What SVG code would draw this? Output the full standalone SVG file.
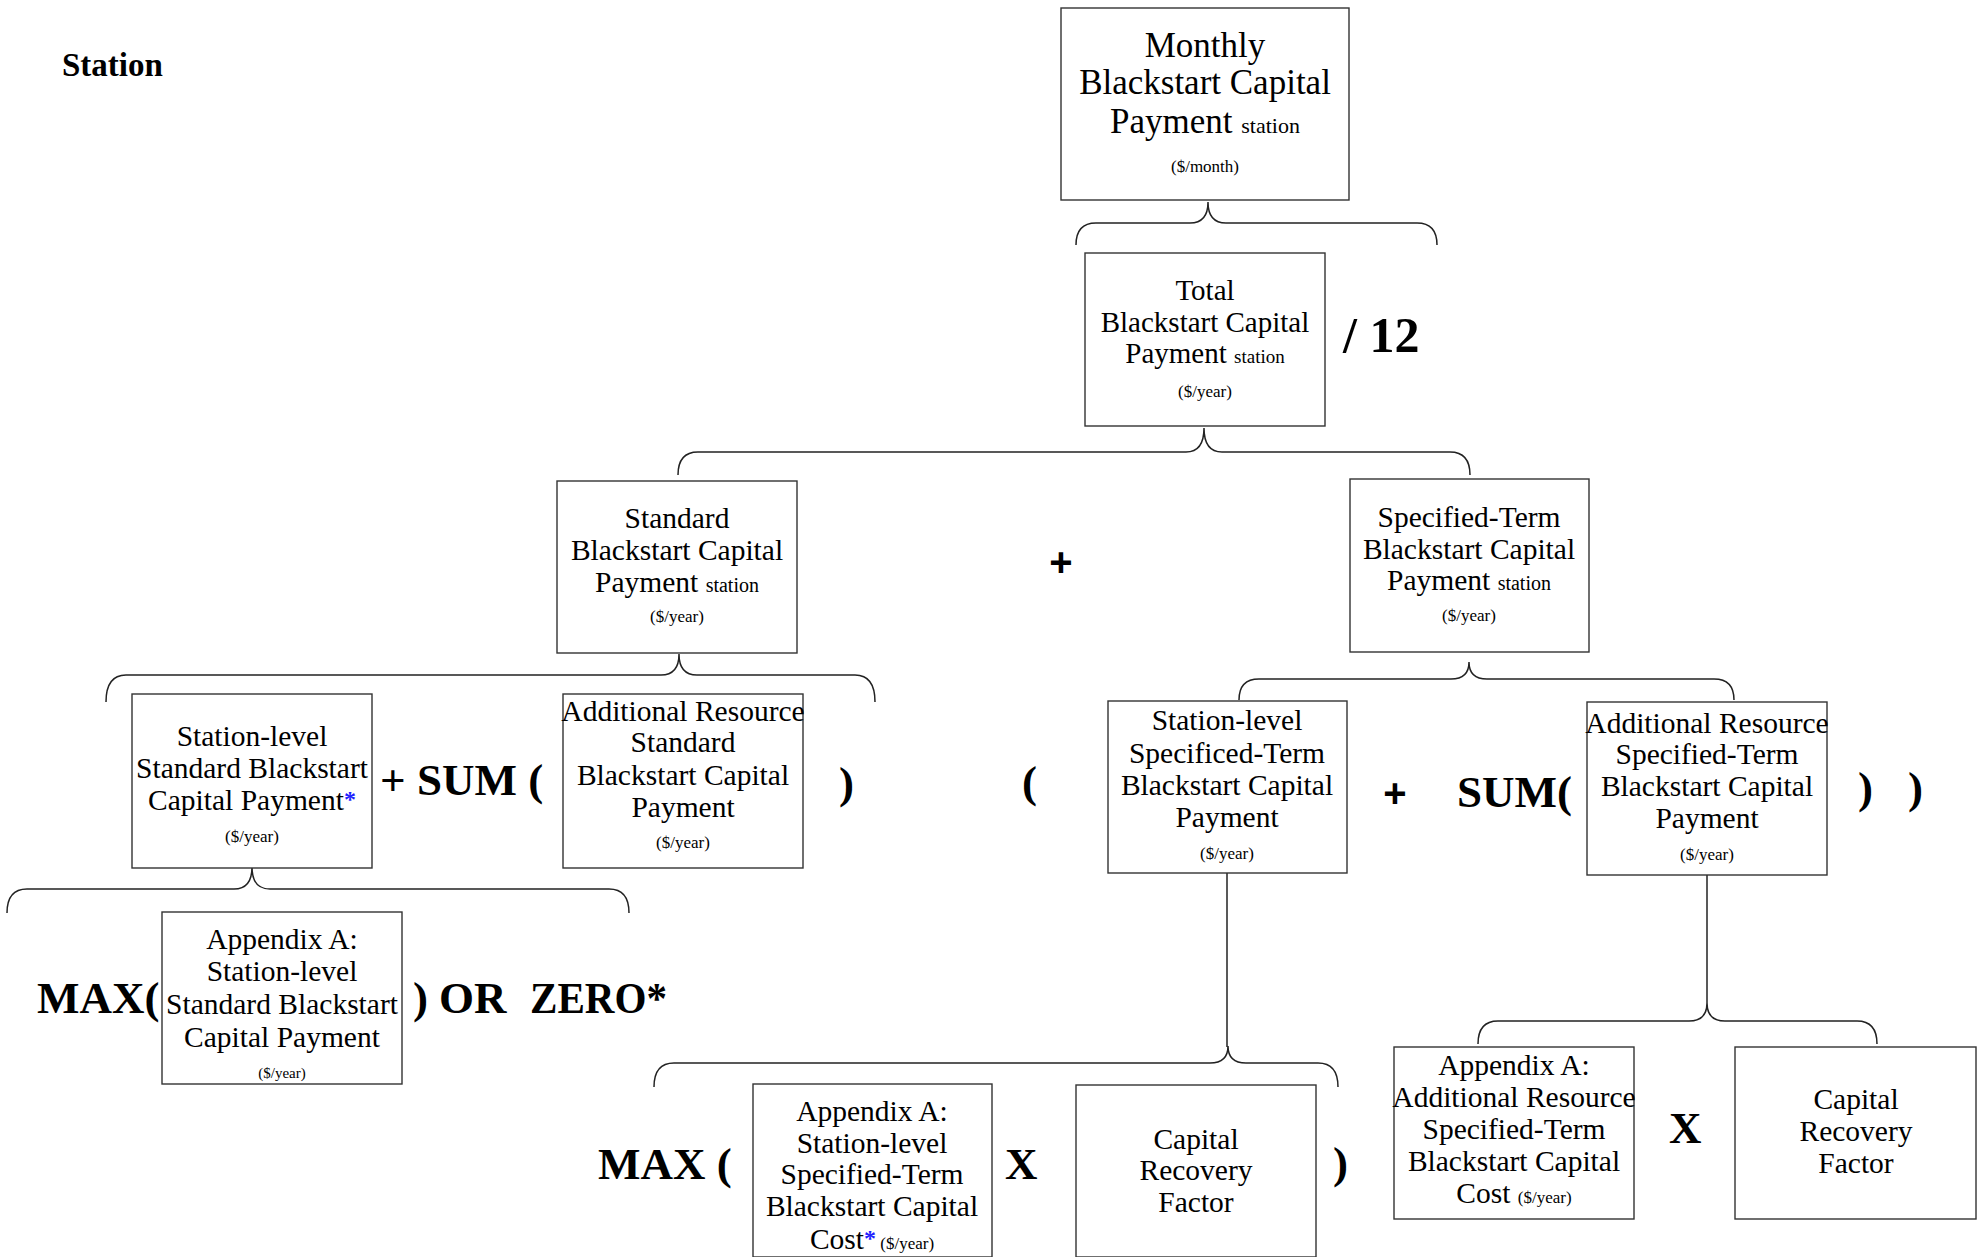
<svg xmlns="http://www.w3.org/2000/svg" width="1983" height="1257" viewBox="0 0 1983 1257">
<style>
.box{fill:#fff;stroke:#333;stroke-width:1.4}
.t{font-family:"Liberation Serif",serif;font-size:29.5px;text-anchor:middle;fill:#000}
.sub{font-size:20px}
.u{font-size:17px}
.ast{fill:#1f1fff;font-weight:bold;font-size:24px}
.op{font-family:"Liberation Serif",serif;font-weight:bold;font-size:45px;fill:#000}
.plus{font-family:"Liberation Sans",sans-serif;font-weight:bold;font-size:40px;fill:#000;text-anchor:middle}
.br{fill:none;stroke:#222;stroke-width:1.5}
</style>
<rect width="1983" height="1257" fill="#fff"/>
<text x="62" y="76" class="op" style="font-size:33px">Station</text>

<g id="connectors">
<path class="br" d="M1076,245 Q1076,223 1096,223 L1190,223 Q1208,223 1208,202 Q1208,223 1226,223 L1417,223 Q1437,223 1437,245"/>
<path class="br" d="M678,475 Q678,452 698,452 L1186,452 Q1204,452 1204,428 Q1204,452 1222,452 L1450,452 Q1470,452 1470,475"/>
<path class="br" d="M106,702 Q106,675 126,675 L661,675 Q679,675 679,654 Q679,675 697,675 L855,675 Q875,675 875,702"/>
<path class="br" d="M1239,700 Q1239,679 1259,679 L1451,679 Q1469,679 1469,662 Q1469,679 1487,679 L1714,679 Q1734,679 1734,700"/>
<path class="br" d="M7,913 Q7,889 27,889 L234,889 Q252,889 252,867 Q252,889 270,889 L609,889 Q629,889 629,913"/>
<path class="br" d="M1227,873 L1227,1047"/>
<path class="br" d="M654,1087 Q654,1063 674,1063 L1210,1063 Q1228,1063 1228,1046 Q1228,1063 1246,1063 L1318,1063 Q1338,1063 1338,1087"/>
<path class="br" d="M1707,875 L1707,1003"/>
<path class="br" d="M1478,1044 Q1478,1021 1498,1021 L1689,1021 Q1707,1021 1707,1003 Q1707,1021 1725,1021 L1857,1021 Q1877,1021 1877,1044"/>
</g>

<g id="monthly">
<rect class="box" x="1061" y="8" width="288" height="192"/>
<text class="t" x="1205" y="57" style="font-size:35px">Monthly</text>
<text class="t" x="1205" y="94" style="font-size:35px">Blackstart Capital</text>
<text class="t" x="1205" y="133" style="font-size:35px">Payment <tspan style="font-size:22px">station</tspan></text>
<text class="t u" x="1205" y="172">($/month)</text>
</g>

<g id="total">
<rect class="box" x="1085" y="253" width="240" height="173"/>
<text class="t" x="1205" y="300" style="font-size:29px">Total</text>
<text class="t" x="1205" y="332" style="font-size:29px">Blackstart Capital</text>
<text class="t" x="1205" y="363" style="font-size:29px">Payment <tspan style="font-size:19px">station</tspan></text>
<text class="t u" x="1205" y="397">($/year)</text>
</g>
<text id="div12" class="op" x="1343" y="352" style="font-size:50px">/ 12</text>

<g id="standard">
<rect class="box" x="557" y="481" width="240" height="172"/>
<text class="t" x="677" y="528">Standard</text>
<text class="t" x="677" y="560">Blackstart Capital</text>
<text class="t" x="677" y="592">Payment <tspan class="sub">station</tspan></text>
<text class="t u" x="677" y="622">($/year)</text>
</g>
<text class="plus" x="1061" y="576">+</text>

<g id="specified">
<rect class="box" x="1350" y="479" width="239" height="173"/>
<text class="t" x="1469" y="527">Specified-Term</text>
<text class="t" x="1469" y="559">Blackstart Capital</text>
<text class="t" x="1469" y="590">Payment <tspan class="sub">station</tspan></text>
<text class="t u" x="1469" y="621">($/year)</text>
</g>

<g id="station-standard">
<rect class="box" x="132" y="694" width="240" height="174"/>
<text class="t" x="252" y="746">Station-level</text>
<text class="t" x="252" y="778">Standard Blackstart</text>
<text class="t" x="252" y="810">Capital Payment<tspan class="ast" dy="-3">*</tspan></text>
<text class="t u" x="252" y="842">($/year)</text>
</g>
<text class="op" x="380" y="795">+ SUM (</text>

<g id="addl-standard">
<rect class="box" x="563" y="694" width="240" height="174"/>
<text class="t" x="683" y="721">Additional Resource</text>
<text class="t" x="683" y="752">Standard</text>
<text class="t" x="683" y="785">Blackstart Capital</text>
<text class="t" x="683" y="817">Payment</text>
<text class="t u" x="683" y="848">($/year)</text>
</g>
<text class="op" x="839" y="798">)</text>

<text class="op" x="37" y="1013">MAX(</text>
<g id="appx-standard">
<rect class="box" x="162" y="912" width="240" height="172"/>
<text class="t" x="282" y="949">Appendix A:</text>
<text class="t" x="282" y="981">Station-level</text>
<text class="t" x="282" y="1014">Standard Blackstart</text>
<text class="t" x="282" y="1047">Capital Payment</text>
<text class="t" x="282" y="1078" style="font-size:15px">($/year)</text>
</g>
<text class="op" x="413" y="1013">)</text>
<text class="op" x="439" y="1013">OR</text>
<text class="op" x="530" y="1013" textLength="137" lengthAdjust="spacingAndGlyphs">ZERO*</text>

<text class="op" x="1022" y="797">(</text>
<g id="station-specified">
<rect class="box" x="1108" y="701" width="239" height="172"/>
<text class="t" x="1227" y="730">Station-level</text>
<text class="t" x="1227" y="763">Specificed-Term</text>
<text class="t" x="1227" y="795">Blackstart Capital</text>
<text class="t" x="1227" y="827">Payment</text>
<text class="t u" x="1227" y="859">($/year)</text>
</g>
<text class="plus" x="1395" y="807">+</text>
<text class="op" x="1457" y="807">SUM(</text>

<g id="addl-specified">
<rect class="box" x="1587" y="702" width="240" height="173"/>
<text class="t" x="1707" y="733">Additional Resource</text>
<text class="t" x="1707" y="764">Specified-Term</text>
<text class="t" x="1707" y="796">Blackstart Capital</text>
<text class="t" x="1707" y="828">Payment</text>
<text class="t u" x="1707" y="860">($/year)</text>
</g>
<text class="op" x="1858" y="803">)</text>
<text class="op" x="1908" y="803">)</text>

<text class="op" x="598" y="1179">MAX (</text>
<g id="appx-station-specified">
<rect class="box" x="753" y="1084" width="239" height="173"/>
<text class="t" x="872" y="1121">Appendix A:</text>
<text class="t" x="872" y="1153">Station-level</text>
<text class="t" x="872" y="1184">Specified-Term</text>
<text class="t" x="872" y="1216">Blackstart Capital</text>
<text class="t" x="872" y="1249">Cost<tspan class="ast" dy="-3">*</tspan><tspan class="u" dy="3"> ($/year)</tspan></text>
</g>
<text class="op" x="1005" y="1179">X</text>
<g id="crf-1">
<rect class="box" x="1076" y="1085" width="240" height="172"/>
<text class="t" x="1196" y="1149">Capital</text>
<text class="t" x="1196" y="1180">Recovery</text>
<text class="t" x="1196" y="1212">Factor</text>
</g>
<text class="op" x="1333" y="1178">)</text>

<g id="appx-addl-specified">
<rect class="box" x="1394" y="1047" width="240" height="172"/>
<text class="t" x="1514" y="1075">Appendix A:</text>
<text class="t" x="1514" y="1107">Additional Resource</text>
<text class="t" x="1514" y="1139">Specified-Term</text>
<text class="t" x="1514" y="1171">Blackstart Capital</text>
<text class="t" x="1514" y="1203">Cost <tspan class="u"> ($/year)</tspan></text>
</g>
<text class="op" x="1669" y="1143">X</text>
<g id="crf-2">
<rect class="box" x="1735" y="1047" width="241" height="172"/>
<text class="t" x="1856" y="1109">Capital</text>
<text class="t" x="1856" y="1141">Recovery</text>
<text class="t" x="1856" y="1173">Factor</text>
</g>
</svg>
